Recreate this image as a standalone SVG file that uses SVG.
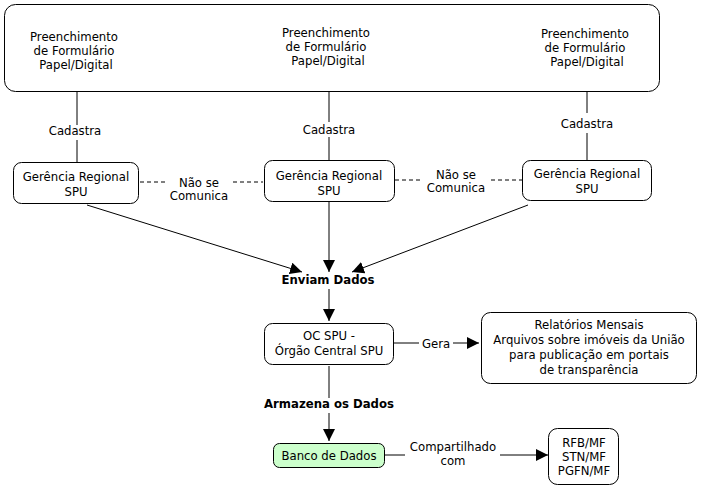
<svg xmlns="http://www.w3.org/2000/svg" width="702" height="492" viewBox="0 0 702 492">
<defs>
<style>
text{font-family:"DejaVu Sans",Verdana,sans-serif;font-size:11.7px;fill:#000;text-anchor:middle}
.b{font-weight:bold}
.box{fill:#fff;stroke:#000;stroke-width:1}
.green{fill:#ccffcc}
.ln{stroke:#000;stroke-width:1;fill:none}
.dash{stroke-dasharray:4,3}
.arr{marker-end:url(#ah)}
</style>
<marker id="ah" markerUnits="userSpaceOnUse" markerWidth="12" markerHeight="12" viewBox="0 0 12 12" refX="12" refY="6" orient="auto">
<path d="M0,0 L12,6 L0,12 Z" fill="#000"/>
</marker>
</defs>
<rect width="702" height="492" fill="#fff"/>
<g id="connectors">
<path class="ln" d="M77,81V125M77,140V162"/>
<path class="ln" d="M329,87V122M329,137V161"/>
<path class="ln" d="M587,79V113M587,133V160"/>
<path class="ln dash" d="M140,182H167M233,182H263"/>
<path class="ln dash" d="M395,180H423M491,180H522"/>
<path class="ln arr" d="M87,205L302,272"/>
<path class="ln arr" d="M329,202V272"/>
<path class="ln arr" d="M528,205L352,272"/>
<path class="ln arr" d="M329,289V321"/>
<path class="ln" d="M329,366V398"/>
<path class="ln arr" d="M329,413V441"/>
<path class="ln" d="M394,343H419"/>
<path class="ln arr" d="M453,343H479"/>
<path class="ln" d="M385,455H405"/>
<path class="ln arr" d="M500,455H548"/>
<text x="75" y="135">Cadastra</text>
<text x="329" y="134">Cadastra</text>
<text x="587" y="128">Cadastra</text>
<text x="199" y="187">Não se</text>
<text x="199" y="200">Comunica</text>
<text x="456" y="179">Não se</text>
<text x="456" y="192">Comunica</text>
<text class="b" x="328" y="284">Enviam Dados</text>
<text class="b" x="329" y="408">Armazena os Dados</text>
<text x="436" y="348">Gera</text>
<text x="453" y="451">Compartilhado</text>
<text x="453" y="465">com</text>
</g>
<g id="form">
<rect class="box" x="4.5" y="4.5" width="655" height="87" rx="11"/>
<text x="74" y="41">Preenchimento</text>
<text x="74" y="55">de Formulário</text>
<text x="76" y="69">Papel/Digital</text>
<text x="326" y="37">Preenchimento</text>
<text x="326" y="51">de Formulário</text>
<text x="328" y="65">Papel/Digital</text>
<text x="585" y="38">Preenchimento</text>
<text x="585" y="52">de Formulário</text>
<text x="587" y="66">Papel/Digital</text>
</g>
<g id="gr1">
<rect class="box" x="13.5" y="162.5" width="125" height="41" rx="8"/>
<text x="76" y="181">Gerência Regional</text>
<text x="76" y="196">SPU</text>
</g>
<g id="gr2">
<rect class="box" x="264.5" y="160.5" width="130" height="41" rx="8"/>
<text x="329" y="180">Gerência Regional</text>
<text x="329" y="195">SPU</text>
</g>
<g id="gr3">
<rect class="box" x="522.5" y="160.5" width="129" height="40" rx="8"/>
<text x="587" y="178">Gerência Regional</text>
<text x="587" y="193">SPU</text>
</g>
<g id="oc">
<rect class="box" x="264.5" y="323.5" width="129" height="41" rx="8"/>
<text x="329" y="340">OC SPU -</text>
<text x="329" y="355">Órgão Central SPU</text>
</g>
<g id="relatorios">
<rect class="box" x="481.5" y="312.5" width="215" height="71" rx="9"/>
<text x="589" y="329">Relatórios Mensais</text>
<text x="589" y="344">Arquivos sobre imóveis da União</text>
<text x="589" y="359">para publicação em portais</text>
<text x="589" y="374">de transparência</text>
</g>
<g id="banco">
<rect class="box green" x="273.5" y="443.5" width="111" height="24" rx="6"/>
<text x="329" y="460">Banco de Dados</text>
</g>
<g id="orgaos">
<rect class="box" x="548.5" y="428.5" width="70" height="56" rx="9"/>
<text x="584" y="447">RFB/MF</text>
<text x="584" y="461">STN/MF</text>
<text x="584" y="475">PGFN/MF</text>
</g>
</svg>
